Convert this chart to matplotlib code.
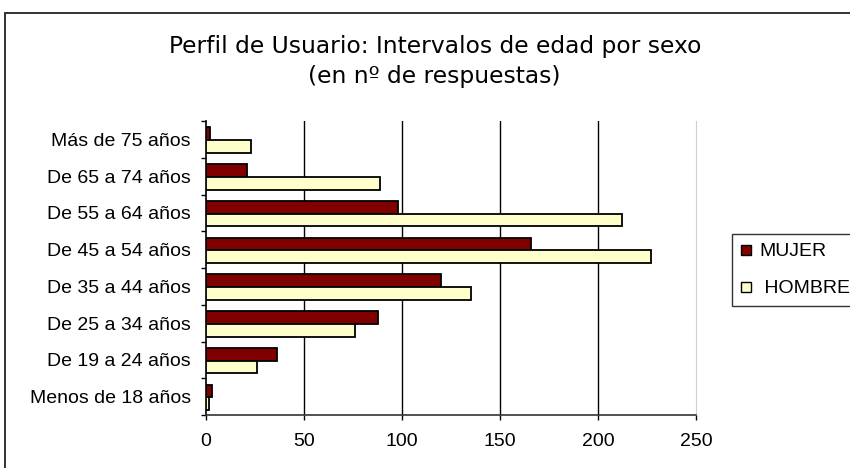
import matplotlib
matplotlib.use("Agg")
import matplotlib.pyplot as plt
from matplotlib.patches import Rectangle
from matplotlib.lines import Line2D
import numpy as np

categories = ["Menos de 18 años", "De 19 a 24 años", "De 25 a 34 años", "De 35 a 44 años",
              "De 45 a 54 años", "De 55 a 64 años", "De 65 a 74 años", "Más de 75 años"]
mujer = [3, 36, 88, 120, 166, 98, 21, 2]
hombre = [1.5, 26, 76, 135, 227, 212, 89, 23]
xticks = [0, 50, 100, 150, 200, 250]
series_labels = ["MUJER", " HOMBRE"]

W, H = 850, 468
fig = plt.figure(figsize=(W / 100, H / 100), dpi=100)
fig.patch.set_facecolor("white")

ax = fig.add_axes([206 / W, 1 - 415 / H, (696 - 206) / W, (415 - 121) / H])

y = np.arange(len(categories))
h = 0.345
ax.barh(y + h / 2 - 0.02, mujer, height=h, color="#800000", edgecolor="black", linewidth=1.3, zorder=3)
ax.barh(y - h / 2 - 0.02, hombre, height=h, color="#FFFFCC", edgecolor="black", linewidth=1.3, zorder=3)

ax.set_xlim(0, 250)
ax.set_ylim(-0.5, len(categories) - 0.5)
ax.set_xticks(xticks)
ax.set_xticklabels([str(v) for v in xticks], fontsize=14, family="Liberation Sans")
ax.set_yticks(y)
ax.set_yticklabels(categories, fontsize=14, family="Liberation Sans")
ax.tick_params(axis="y", length=0, pad=11)
ax.set_yticks(np.arange(-0.5, len(categories), 1.0), minor=True)
ax.tick_params(axis="y", which="minor", length=3.6, width=1, color="black", direction="out")
ax.tick_params(axis="x", length=3.6, width=1, direction="out", pad=9.5)

for v in xticks[1:-1]:
    ax.axvline(v, color="black", linewidth=1, zorder=1)

ax.spines["top"].set_visible(False)
ax.spines["right"].set_color("#d0d0d0")
ax.spines["left"].set_linewidth(1.2)
ax.spines["bottom"].set_linewidth(1.2)
ax.spines["bottom"].set_color("#333333")

fig.text(435 / W, 1 - 47 / H, "Perfil de Usuario: Intervalos de edad por sexo",
         ha="center", va="center", fontsize=16.8, family="DejaVu Sans")
fig.text(434 / W, 1 - 77 / H, "(en nº de respuestas)",
         ha="center", va="center", fontsize=16.8, family="DejaVu Sans")

# outer chart border
fig.patches.append(Rectangle((5 / W, -0.1), 1.2, 1.1 - 13 / H, transform=fig.transFigure,
                             fill=False, edgecolor="#222222", linewidth=1.3))

handles = [Line2D([], [], marker="s", linestyle="none", markersize=7, markerfacecolor="#800000",
                  markeredgecolor="black", markeredgewidth=1),
           Line2D([], [], marker="s", linestyle="none", markersize=7, markerfacecolor="#FFFFCC",
                  markeredgecolor="black", markeredgewidth=1)]
leg = fig.legend(handles, series_labels, loc="upper left",
                 bbox_to_anchor=(732 / W, 1 - 234 / H), frameon=True, fancybox=False,
                 edgecolor="black", handlelength=0.55, handletextpad=0.4,
                 borderpad=0.45, borderaxespad=0, labelspacing=1.0,
                 prop={"family": "Liberation Sans", "size": 14})
leg.get_frame().set_linewidth(1)

fig.savefig("out.png", dpi=100)
